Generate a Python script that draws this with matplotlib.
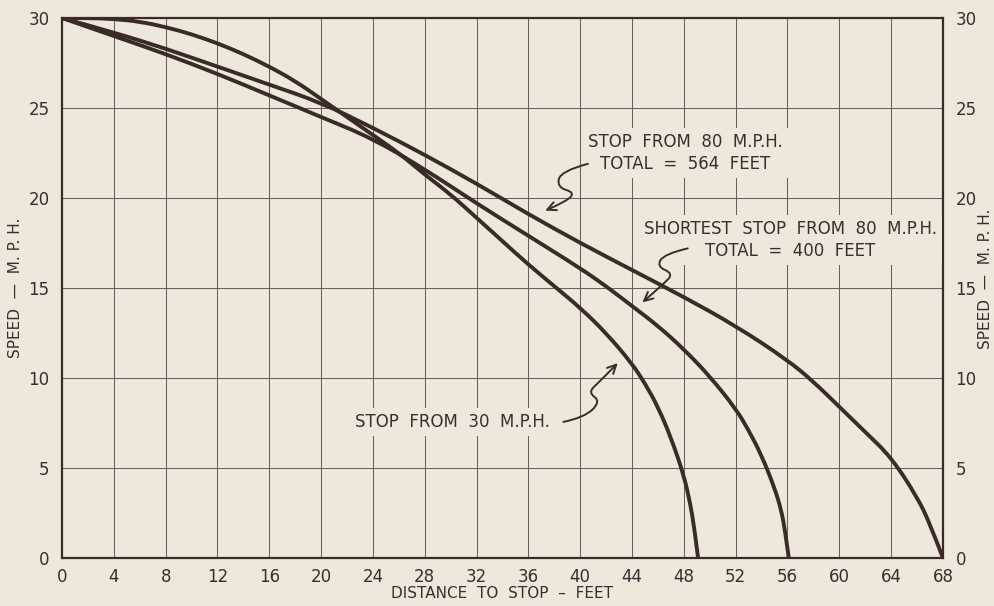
import matplotlib.pyplot as plt
from matplotlib.path import Path
from matplotlib.patches import FancyArrowPatch, PathPatch

# stop from 30 mph (ends at 49 ft)
dist_30 = [0, 2, 4, 6, 8, 10, 12, 14, 16, 18, 20, 22, 24, 26, 28, 30, 32, 34, 36, 38,
           40, 42, 44, 45, 46, 47, 48, 48.5, 48.8, 49.1]
speed_30 = [30, 30, 29.95, 29.8, 29.5, 29.1, 28.6, 28.0, 27.3, 26.5, 25.5, 24.5, 23.5, 22.5,
            21.3, 20.2, 18.9, 17.6, 16.3, 15.1, 13.9, 12.5, 10.8, 9.7, 8.4, 6.7, 4.6, 3.0, 1.7, 0]

# shortest stop from 80 mph (last 56 ft)
dist_short = [0, 4, 8, 12, 16, 20, 24, 28, 32, 36, 40, 42, 44, 46, 48, 50, 52, 53, 54,
              55, 55.5, 55.8, 56.1]
speed_short = [30, 29.0, 28.0, 26.9, 25.7, 24.5, 23.3, 21.6, 19.7, 17.9, 16.1, 15.1, 14.0,
               12.9, 11.6, 10.1, 8.3, 7.1, 5.7, 3.9, 2.7, 1.6, 0]

# stop from 80 mph, total 564 ft (last 68 ft)
dist_564 = [0, 4, 8, 12, 16, 20, 24, 28, 32, 36, 40, 44, 48, 52, 56, 58, 60, 62, 64, 66, 67, 68]
speed_564 = [30, 29.2, 28.3, 27.3, 26.3, 25.3, 23.9, 22.4, 20.8, 19.1, 17.5, 16.0, 14.5, 12.9,
             11.0, 9.8, 8.4, 7.0, 5.6, 3.4, 1.9, 0]

x_ticks = list(range(0, 69, 4))
y_ticks = [0, 5, 10, 15, 20, 25, 30]

bg = '#eee8da'
ink = '#3a2c24'
grid_c = '#6a605a'
txt_c = '#35302c'


def smooth_path(pts):
    # quadratic segments through the midpoints, so the pen line has no corners
    verts = [pts[0]]
    codes = [Path.MOVETO]
    for i in range(1, len(pts) - 2):
        mid = ((pts[i][0] + pts[i + 1][0]) / 2, (pts[i][1] + pts[i + 1][1]) / 2)
        verts += [pts[i], mid]
        codes += [Path.CURVE3, Path.CURVE3]
    verts += [pts[-2], pts[-1]]
    codes += [Path.CURVE3, Path.CURVE3]
    return Path(verts, codes)


fig = plt.figure(figsize=(9.95, 6.06), dpi=100, facecolor=bg)
ax = fig.add_axes([0.0623, 0.0792, 0.8854, 0.8911])
ax.set_facecolor(bg)

ax.set_xlim(0, 68)
ax.set_ylim(0, 30)
ax.set_xticks(x_ticks)
ax.set_yticks(y_ticks)
ax.set_xticklabels([str(v) for v in x_ticks])
ax.set_yticklabels([str(v) for v in y_ticks])
ax.grid(True, color=grid_c, linewidth=0.75, zorder=1)
ax.set_axisbelow(True)
for s in ax.spines.values():
    s.set_color(ink)
    s.set_linewidth(1.6)

ax.tick_params(axis='both', length=0, labelsize=12, labelcolor=txt_c)
ax.tick_params(axis='y', pad=9, labelright=True)
ax.tick_params(axis='x', pad=7)

for xs, ys in [(dist_30, speed_30), (dist_short, speed_short), (dist_564, speed_564)]:
    ax.add_patch(PathPatch(smooth_path(list(zip(xs, ys))), fill=False, ec=ink, lw=2.8,
                           capstyle='butt', zorder=4))

ax.set_xlabel('DISTANCE  TO  STOP  –  FEET', fontsize=11, color=txt_c, labelpad=0)
ax.set_ylabel('SPEED  —  M. P. H.', fontsize=11, color=txt_c, labelpad=4)
fig.text(0.99, 0.54, 'SPEED  —  M. P. H.', rotation=90, fontsize=11, color=txt_c,
         ha='center', va='center')

box = dict(boxstyle='square,pad=0.3', fc=bg, ec='none')
ax.text(48.1, 22.5, 'STOP  FROM  80  M.P.H.\nTOTAL  =  564  FEET', ha='center', va='center',
        fontsize=12, color=txt_c, linespacing=1.25, bbox=box, zorder=3)
ax.text(56.2, 17.67, 'SHORTEST  STOP  FROM  80  M.P.H.\nTOTAL  =  400  FEET', ha='center',
        va='center', fontsize=12, color=txt_c, linespacing=1.25, bbox=box, zorder=3)
ax.text(30.1, 7.56, 'STOP  FROM  30  M.P.H.', ha='center', va='center',
        fontsize=12, color=txt_c, bbox=box, zorder=3)


def squiggle(pts):
    arr = FancyArrowPatch(path=smooth_path(pts), arrowstyle='->,head_length=0.45,head_width=0.22',
                          mutation_scale=14, lw=1.4, color=ink, transform=ax.transData,
                          zorder=5, clip_on=False)
    ax.add_patch(arr)


squiggle([(40.6, 21.9), (38.5, 21.5), (38.2, 20.6), (39.6, 20.3), (38.9, 19.8), (37.3, 19.3)])
squiggle([(48.3, 17.2), (46.5, 16.9), (45.9, 16.2), (47.2, 15.8), (46.4, 15.2), (44.8, 14.2)])
squiggle([(38.7, 7.56), (40.3, 7.8), (41.6, 8.7), (40.6, 9.2), (41.5, 9.8), (42.9, 10.83)])

fig.savefig('out.png', dpi=100, facecolor=bg)
